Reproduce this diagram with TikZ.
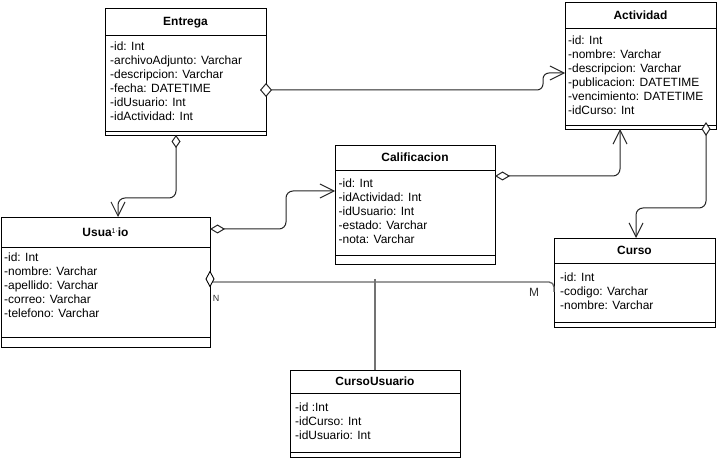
\documentclass[tikz,border=0pt]{standalone}
\usepackage{fontspec}
\setmainfont{Liberation Sans}
\usetikzlibrary{arrows.meta,calc}

\tikzset{
  umlbox/.style={draw=black, line width=0.9bp, inner sep=0pt, outer sep=0pt, anchor=north west},
  boxline/.style={draw=black, line width=0.9bp},
  ttl/.style={font=\bfseries\fontsize{12}{14}\selectfont, anchor=base, inner sep=0pt},
  attr/.style={font=\fontsize{12}{14}\selectfont, anchor=base west, inner sep=0pt},
  conn/.style={draw=black!85, line width=1bp, rounded corners=7bp, line join=round},
  assoc/.style={draw=black!60, line width=1.3bp, rounded corners=5bp},
  aggnav/.style={{Diamond[open,fill=white,#1]}-{Straight Barb[length=14bp,width=14bp]}},
  lbl/.style={inner sep=0pt, text=black!80},
}

% class box: name, title, left, top, right, title rule, attribute rule, bottom
\newcommand\umlclass[8]{%
  \node[umlbox, minimum width={(#5-#3)*1bp}, minimum height={(#8-#4)*1bp}] (#1) at (#3,#4) {};
  \draw[boxline] (#3,#6) -- (#5,#6);
  \draw[boxline] (#3,#7) -- (#5,#7);
  \node[ttl] (#1-t) at ({(#3+#5)/2},{(#4+#6)/2+4.3}) {#2};
}
% attribute lines: name, text x, centre of first line, list
\newcommand\umlattrs[4]{%
  \foreach \txt [count=\i] in {#4} {
    \node[attr] (#1-a\i) at (#2,{#3+4.3+14*(\i-1)}) {\txt};
  }
}

\begin{document}
\begin{tikzpicture}[x=1bp,y=-1bp]
  \fill[white] (0,0) rectangle (724,460);
  \useasboundingbox (0,0) rectangle (724,460);

  % classes
  \umlclass{ent}{Entrega}{105}{8}{266}{35}{131.5}{135}
  \umlattrs{ent}{110}{46}{-id: Int,-archivoAdjunto: Varchar,-descripcion: Varchar,-fecha: DATETIME,-idUsuario: Int,-idActividad: Int}

  \umlclass{act}{Actividad}{565}{2}{716}{28.5}{125}{129}
  \umlattrs{act}{568}{40}{-id: Int,-nombre: Varchar,-descripcion: Varchar,-publicacion: DATETIME,-vencimiento: DATETIME,-idCurso: Int}

  \umlclass{cal}{Calificacion}{335}{145}{495}{170}{255}{264}
  \umlattrs{cal}{338.5}{183}{-id: Int,-idActividad: Int,-idUsuario: Int,-estado: Varchar,-nota: Varchar}

  \umlclass{usr}{Usua{\fontsize{7}{7}\selectfont\mdseries\raisebox{3bp}{1}\raisebox{2.5bp}{·}}io}{1}{217}{210}{247}{337}{347}
  \umlattrs{usr}{4}{257}{-id: Int,-nombre: Varchar,-apellido: Varchar,-correo: Varchar,-telefono: Varchar}

  \umlclass{cur}{Curso}{554}{238}{715}{263}{322}{327}
  \umlattrs{cur}{560}{277}{-id: Int,-codigo: Varchar,-nombre: Varchar}

  \umlclass{cu}{CursoUsuario}{290}{370}{460}{393}{452}{457}
  \umlattrs{cu}{295}{407}{-id :Int,-idCurso: Int,-idUsuario: Int}

  % Entrega -> Actividad
  \draw[conn, aggnav={length=12bp,width=14bp}, rounded corners=6bp]
    ($(ent.north east)+(-6,82)$) -- ($(act.north west)+(-22,88)$)
    -- ($(act.north west)+(-22,71)$) -- ($(act.north west)+(0,71)$);

  % Entrega -> Usuario
  \draw[conn, aggnav={length=13bp,width=9bp}]
    ($(ent.south west)+(71,0)$) -- ($(ent.south west)+(71,63)$)
    -- ($(usr.north west)+(117,-19)$) -- ($(usr.north west)+(117,0)$);

  % Usuario -> Calificacion
  \draw[conn, aggnav={length=15bp,width=9bp}]
    ($(usr.north east)+(0,12)$) -- ($(usr.north east)+(76,12)$)
    -- ($(cal.north west)+(-49,46)$) -- ($(cal.north west)+(0,46)$);

  % Calificacion -> Actividad
  \draw[conn, aggnav={length=15bp,width=9bp}]
    ($(cal.north east)+(0,31)$) -- ($(act.south west)+(55,47)$)
    -- ($(act.south west)+(55,0)$);

  % Actividad -> Curso
  \draw[conn, aggnav={length=14bp,width=9bp}]
    ($(act.south west)+(141,-7)$) -- ($(act.south west)+(141,79)$)
    -- ($(cur.north west)+(82,-30)$) -- ($(cur.north west)+(82,0)$);

  % Usuario N -- M Curso, with the CursoUsuario link
  \coordinate (usrN) at ($(usr.north east)+(3,65)$);
  \coordinate (jn) at ($(cu.north)+(0,-91)$);
  \draw[assoc] (usrN) -- ($(cur.north west)+(0,44)$) -- ($(cur.north west)+(0,54)$);
  \draw[draw=black, line width=0.9bp, fill=white]
    ($(usr.north east)+(0,54.5)$) -- ++(4,7.5) -- ++(-4,7.5) -- ++(-4,-7.5) -- cycle;
  \draw[assoc, draw=black!55, line width=1.6bp] (jn) -- (cu.north);

  \node[lbl, font=\fontsize{9}{10}\selectfont] (nlab) at (216,298) {N};
  \node[lbl, font=\fontsize{12}{14}\selectfont] (mlab) at (534,292.5) {M};
\end{tikzpicture}
\end{document}
